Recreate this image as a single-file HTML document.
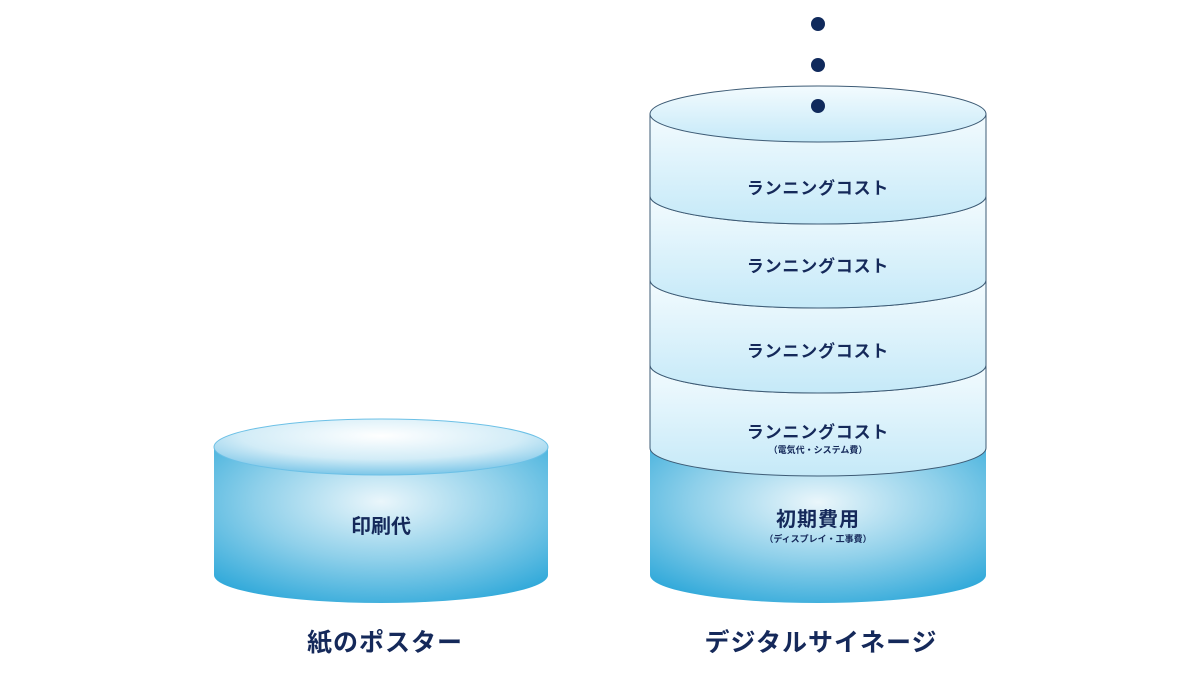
<!DOCTYPE html>
<html><head><meta charset="utf-8"><style>
html,body{margin:0;padding:0;background:#fff;}
svg{display:block;}
text{font-family:"Liberation Sans","Noto Sans CJK JP",sans-serif;font-weight:bold;fill:#15295a;text-anchor:middle;}
</style></head><body>
<svg width="1200" height="675" viewBox="0 0 1200 675">
<defs>
<radialGradient id="blue" cx="0.5" cy="0.35" r="0.75">
<stop offset="0" stop-color="#eaf6fb"/><stop offset="0.5" stop-color="#8fd0ea"/><stop offset="1" stop-color="#27a5d8"/>
</radialGradient>
<radialGradient id="btop" cx="0.5" cy="0.3" r="0.7">
<stop offset="0" stop-color="#ffffff"/><stop offset="0.6" stop-color="#d2ecf7"/><stop offset="1" stop-color="#7cc6e8"/>
</radialGradient>
<linearGradient id="lay" x1="0" y1="0" x2="0" y2="1">
<stop offset="0" stop-color="#f3fbfe"/><stop offset="1" stop-color="#c5e9f8"/>
</linearGradient>
</defs>
<path d="M214,447 V575 A167,28 0 0 0 548,575 V447 Z" fill="url(#blue)"/>
<ellipse cx="381" cy="447" rx="167" ry="28" fill="url(#btop)" stroke="#6cc0e6" stroke-width="1"/>
<text x="381" y="533" font-size="20">印刷代</text>
<text x="385" y="651" font-size="25" letter-spacing="1">紙のポスター</text>

<path d="M650,448 V575 A168,28 0 0 0 986,575 V448 A168,28 0 0 1 650,448 Z" fill="url(#blue)"/>
<path d="M650,365 V448 A168,28 0 0 0 986,448 V365 A168,28 0 0 1 650,365 Z" fill="url(#lay)" stroke="#3d5b75" stroke-width="1"/>
<path d="M650,280 V365 A168,28 0 0 0 986,365 V280 A168,28 0 0 1 650,280 Z" fill="url(#lay)" stroke="#3d5b75" stroke-width="1"/>
<path d="M650,196 V280 A168,28 0 0 0 986,280 V196 A168,28 0 0 1 650,196 Z" fill="url(#lay)" stroke="#3d5b75" stroke-width="1"/>
<path d="M650,114 V196 A168,28 0 0 0 986,196 V114 Z" fill="url(#lay)" stroke="#3d5b75" stroke-width="1"/>
<ellipse cx="818" cy="114" rx="168" ry="28" fill="url(#lay)" stroke="#3d5b75" stroke-width="1"/>
<circle cx="818" cy="24" r="7" fill="#102a5c"/>
<circle cx="818" cy="65" r="7" fill="#102a5c"/>
<circle cx="818" cy="106" r="7" fill="#102a5c"/>
<text x="818" y="194" font-size="17" letter-spacing="0.8">ランニングコスト</text>
<text x="818" y="272" font-size="17" letter-spacing="0.8">ランニングコスト</text>
<text x="818" y="357" font-size="17" letter-spacing="0.8">ランニングコスト</text>
<text x="818" y="438" font-size="17" letter-spacing="0.8">ランニングコスト</text>
<text x="818" y="453" font-size="9">（電気代・システム費）</text>
<text x="818" y="526" font-size="20" letter-spacing="1">初期費用</text>
<text x="818" y="542" font-size="9">（ディスプレイ・工事費）</text>
<text x="821" y="651" font-size="25" letter-spacing="1">デジタルサイネージ</text>
</svg>
</body></html>
